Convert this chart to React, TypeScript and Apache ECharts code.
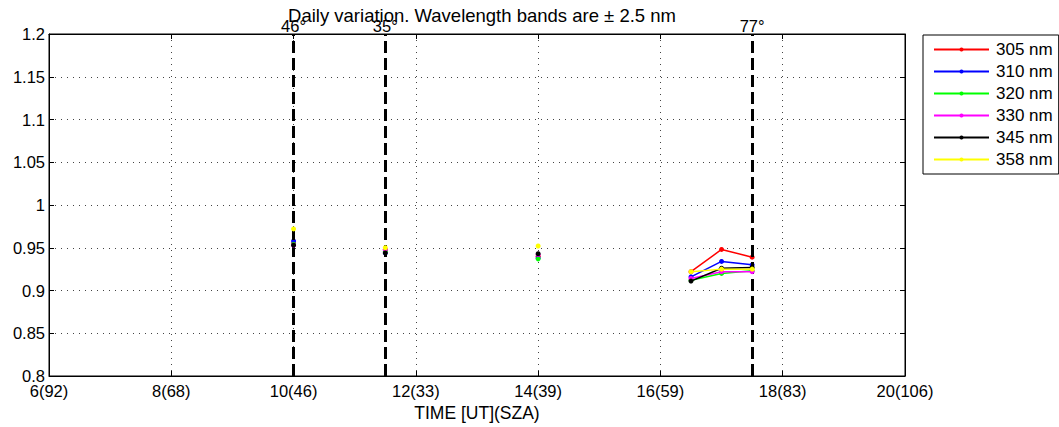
import React, { useEffect, useRef } from "react";
import * as echarts from "echarts";

const hours = [10, 11, 11.5, 12, 14, 15, 16.5, 17, 17.5];
const names = ["305 nm", "310 nm", "320 nm", "330 nm", "345 nm", "358 nm"];
const colors = ["#ff0000", "#0000ff", "#00ff00", "#ff00ff", "#000000", "#ffff00"];
const v305 = [0.955, null, 0.948, null, 0.940, null, 0.922, 0.948, 0.939];
const v310 = [0.958, null, 0.944, null, 0.938, null, 0.916, 0.934, 0.930];
const v320 = [0.954, null, 0.946, null, 0.937, null, 0.912, 0.920, 0.923];
const v330 = [0.953, null, 0.948, null, 0.942, null, 0.914, 0.922, 0.922];
const v345 = [0.953, null, 0.944, null, 0.943, null, 0.911, 0.926, 0.927];
const v358 = [0.972, null, 0.950, null, 0.952, null, 0.922, 0.925, 0.925];
const seriesValues = [v305, v310, v320, v330, v345, v358];

const xTicks = [6, 8, 10, 12, 14, 16, 18, 20];
const xTickLabels = ["6(92)", "8(68)", "10(46)", "12(33)", "14(39)", "16(59)", "18(83)", "20(106)"];
const szaLineHours = [10, 11.5, 17.5];
const szaLineLabels = ["46°", "35°", "77°"];

const FONT = "Liberation Sans, Arial, Helvetica, sans-serif";
const FS = 16.5;

export default function App() {
  const ref = useRef<HTMLDivElement>(null);
  useEffect(() => {
    if (!ref.current) return;
    const chart = echarts.init(ref.current, undefined, { renderer: "svg" });
    const lineSeries = names.map((n, i) => ({
      name: n,
      type: "line",
      xAxisIndex: 0,
      yAxisIndex: 0,
      data: hours.map((h, j) => [h, seriesValues[i][j] === null ? "-" : seriesValues[i][j]]),
      connectNulls: false,
      symbol: "circle",
      symbolSize: 5,
      showSymbol: true,
      itemStyle: { color: colors[i] },
      lineStyle: { color: colors[i], width: 1.5 },
      z: 3 + i,
    }));
    const markSeries = {
      name: "sza",
      type: "line",
      data: [],
      silent: true,
      z: 2,
      markLine: {
        symbol: ["none", "none"],
        silent: true,
        animation: false,
        lineStyle: { color: "#000", width: 3, type: [12, 5] },
        label: {
          show: true,
          position: "end",
          formatter: "{b}",
          color: "#000",
          fontSize: FS,
          fontFamily: FONT,
          distance: 0,
        },
        data: szaLineHours.map((h, i) => ({ xAxis: h, name: szaLineLabels[i] })),
      },
    };
    const baseX = { type: "value", min: 6, max: 20, interval: 2 };
    const baseY = { type: "value", min: 0.8, max: 1.2, interval: 0.05 };
    chart.setOption({
      animation: false,
      backgroundColor: "#fff",
      textStyle: { fontFamily: FONT },
      title: {
        text: "Daily variation. Wavelength bands are ± 2.5 nm",
        left: 477,
        textAlign: "center",
        top: 1,
        textStyle: { fontSize: 18.5, fontWeight: "normal", color: "#000", fontFamily: FONT },
      },
      grid: {
        left: 49,
        top: 34,
        width: 856,
        height: 342,
        show: true,
        borderColor: "#000",
        borderWidth: 1,
        backgroundColor: "#fff",
      },
      legend: {
        data: names,
        orient: "vertical",
        left: 923,
        top: 35,
        backgroundColor: "#fff",
        borderColor: "#000",
        borderWidth: 1,
        borderRadius: 0,
        padding: [6, 6, 6, 10],
        itemWidth: 55,
        itemHeight: 5,
        itemGap: 5,
        textStyle: { fontSize: 17, color: "#000", fontFamily: FONT, padding: [0, 0, 0, 2] },
      },
      xAxis: [
        {
          ...baseX,
          position: "bottom",
          name: "TIME [UT](SZA)",
          nameLocation: "middle",
          nameGap: 25,
          nameTextStyle: { fontSize: 17.5, color: "#000", fontFamily: FONT },
          axisLine: { show: true, lineStyle: { color: "#000", width: 1 } },
          axisTick: { show: true, inside: true, length: 5, lineStyle: { color: "#000" } },
          axisLabel: {
            fontSize: FS,
            color: "#000",
            margin: 6,
            fontFamily: FONT,
            formatter: (v: number) => {
              const k = xTicks.indexOf(Math.round(v * 100) / 100);
              return k >= 0 ? xTickLabels[k] : "";
            },
          },
          splitLine: { show: true, lineStyle: { color: "#444", type: [1, 5], width: 1 } },
        },
        {
          ...baseX,
          position: "top",
          axisLine: { show: true, lineStyle: { color: "#000", width: 1 } },
          axisTick: { show: true, inside: true, length: 5, lineStyle: { color: "#000" } },
          axisLabel: { show: false },
          splitLine: { show: false },
        },
      ],
      yAxis: [
        {
          ...baseY,
          position: "left",
          axisLine: { show: true, lineStyle: { color: "#000", width: 1 } },
          axisTick: { show: true, inside: true, length: 5, lineStyle: { color: "#000" } },
          axisLabel: { fontSize: FS, color: "#000", margin: 4, fontFamily: FONT },
          splitLine: { show: true, lineStyle: { color: "#444", type: [1, 5], width: 1 } },
        },
        {
          ...baseY,
          position: "right",
          axisLine: { show: true, lineStyle: { color: "#000", width: 1 } },
          axisTick: { show: true, inside: true, length: 5, lineStyle: { color: "#000" } },
          axisLabel: { show: false },
          splitLine: { show: false },
        },
      ],
      series: [markSeries, ...lineSeries],
    });
    return () => chart.dispose();
  }, []);
  return (
    <div
      ref={ref}
      style={{ position: "fixed", left: 0, top: 0, width: 1059, height: 427, background: "#fff" }}
    />
  );
}
